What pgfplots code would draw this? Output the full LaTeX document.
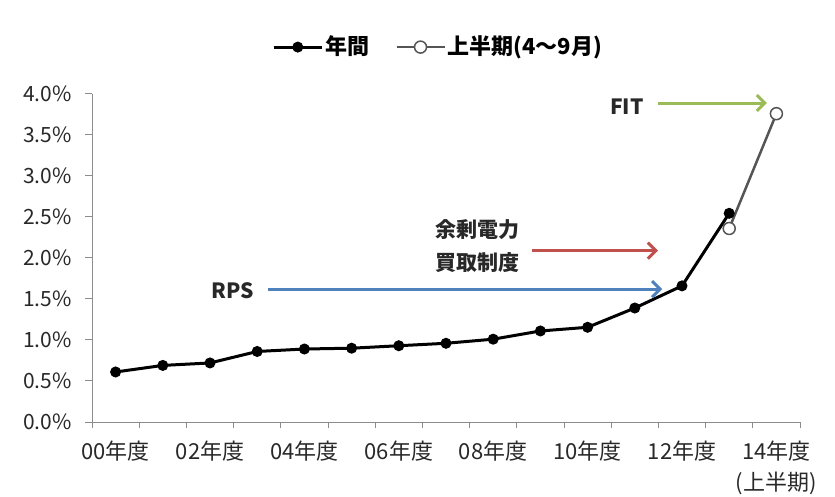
\documentclass[border=0pt]{standalone}
\usepackage{pgfplots}
\pgfplotsset{compat=1.18}
\usepackage{fontspec}
\setmainfont{Noto Sans CJK JP}
\usetikzlibrary{arrows.meta}
\definecolor{axgray}{RGB}{140,140,140}
\definecolor{rpsblue}{RGB}{79,129,189}
\definecolor{fitgreen}{RGB}{155,187,89}
\definecolor{surred}{RGB}{192,80,77}
\definecolor{halfgray}{RGB}{85,85,85}
\definecolor{txt}{RGB}{40,40,40}
\begin{document}
\fontsize{21bp}{25bp}\selectfont
\begin{tikzpicture}
\useasboundingbox (0,0) rectangle (835bp,497bp);
\begin{axis}[
  at={(92bp,75bp)}, anchor=south west,
  scale only axis, width=708bp, height=328bp,
  xmin=-0.5, xmax=14.5, ymin=0, ymax=4,
  axis x line*=bottom, axis y line*=left,
  axis line style={axgray, line width=1bp},
  clip=false,
  tick align=outside,
  xtick={0,2,...,14},
  xticklabels={00年度,02年度,04年度,06年度,08年度,10年度,12年度,{14年度\\(上半期)}},
  xticklabel style={align=center, text=txt, yshift=-5bp, font=\fontsize{22bp}{31bp}\selectfont},
  major x tick style={draw=none},
  minor xtick={-0.5,0.5,...,14.5},
  minor x tick style={axgray, line width=1bp},
  minor tick length=6bp,
  ytick={0,0.5,...,4},
  yticklabels={0.0\%,0.5\%,1.0\%,1.5\%,2.0\%,2.5\%,3.0\%,3.5\%,4.0\%},
  yticklabel style={text=txt, xshift=-6bp},
  major y tick style={axgray, line width=1bp},
  major tick length=7bp,
  legend columns=2,
  legend style={draw=none, fill=none, at={(0.489,1.143)}, anchor=center,
    font=\bfseries\fontsize{22bp}{26bp}\selectfont, /tikz/every even column/.append style={column sep=24bp}},
  legend image code/.code={\draw[mark repeat=2,mark phase=2,#1] plot coordinates {(0bp,0bp) (24bp,0bp) (48bp,0bp)};},
]
\addplot[black, line width=3bp, mark=*, mark size=5bp, mark options={line width=1bp}] coordinates {
(0,0.61)(1,0.69)(2,0.72)(3,0.86)(4,0.89)(5,0.90)(6,0.93)(7,0.96)(8,1.01)(9,1.11)(10,1.155)(11,1.39)(12,1.66)(13,2.545)};
\addlegendentry{年間}
\addplot[halfgray, line width=2.5bp, mark=*, mark size=6bp, mark options={fill=white, draw=halfgray, line width=1.5bp}] coordinates {
(13,2.36)(14,3.76)};
\addlegendentry{上半期(4～9月)}

\node[font=\bfseries, text=txt] at (axis cs:10.83,3.84) {FIT};
\draw[fitgreen, line width=3bp, -{Straight Barb[length=8bp,width=16bp]}] (axis cs:11.49,3.89) -- (axis cs:13.8,3.89);
\node[font=\bfseries, text=txt] at (axis cs:2.49,1.60) {RPS};
\draw[rpsblue, line width=3bp, -{Straight Barb[length=8bp,width=16bp]}] (axis cs:3.23,1.62) -- (axis cs:11.58,1.62);
\node[font=\bfseries\fontsize{21bp}{33bp}\selectfont, align=center, text=txt] at (axis cs:7.67,2.14) {余剰電力\\買取制度};
\draw[surred, line width=3bp, -{Straight Barb[length=8bp,width=16bp]}] (axis cs:8.82,2.09) -- (axis cs:11.49,2.09);
\end{axis}
\end{tikzpicture}
\end{document}
